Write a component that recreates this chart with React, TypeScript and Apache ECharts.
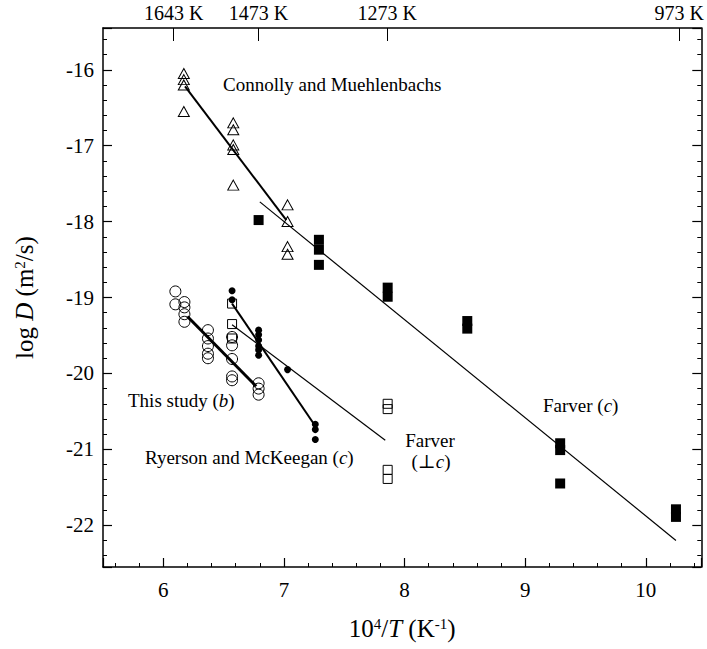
import React, { useEffect, useRef } from "react";
import * as echarts from "echarts";

const SERIF = '"Liberation Serif", "DejaVu Serif", "Times New Roman", serif';
const FS = 19;
const TICK_FS = 21;
const TITLE_FS = 25;

// Top axis temperatures (K)
const topTempsK = [1643, 1473, 1273, 973];

// Connolly and Muehlenbachs (open triangles)
const cmX = [6.17, 6.17, 6.17, 6.17, 6.58, 6.58, 6.58, 6.58, 6.58, 7.03, 7.03, 7.03, 7.03];
const cmY = [-16.05, -16.13, -16.2, -16.55, -16.7, -16.79, -16.99, -17.05, -17.52, -17.78, -18.0, -18.33, -18.43];
const cmFitX = [6.18, 7.02];
const cmFitY = [-16.22, -17.98];

// Farver (c) filled squares
const farverCX = [6.79, 7.29, 7.29, 7.29, 7.86, 7.86, 8.52, 8.52, 9.29, 9.29, 9.29, 10.25, 10.25];
const farverCY = [-17.98, -18.24, -18.37, -18.57, -18.87, -18.99, -19.31, -19.41, -20.92, -21.01, -21.45, -21.79, -21.89];
const farverCFitX = [6.8, 10.25];
const farverCFitY = [-17.74, -22.2];

// This study (b) open circles
const studyX = [6.1, 6.1, 6.175, 6.175, 6.175, 6.175, 6.37, 6.37, 6.37, 6.37, 6.37, 6.57, 6.57, 6.57, 6.57, 6.57, 6.79, 6.79, 6.79];
const studyY = [-18.92, -19.09, -19.06, -19.13, -19.22, -19.32, -19.43, -19.54, -19.64, -19.74, -19.8, -19.52, -19.63, -19.81, -20.04, -20.09, -20.13, -20.2, -20.28];
const studyFitX = [6.2, 6.77];
const studyFitY = [-19.25, -20.17];

// Ryerson and McKeegan (c) filled dots
const rmX = [6.57, 6.57, 6.79, 6.79, 6.79, 6.79, 6.79, 6.79, 7.03, 7.26, 7.26, 7.26];
const rmY = [-18.91, -19.03, -19.43, -19.49, -19.56, -19.64, -19.69, -19.76, -19.95, -20.67, -20.74, -20.87];
const rmFitX = [6.57, 7.25];
const rmFitY = [-19.08, -20.67];

// Farver (perpendicular c) open squares
const farverPX = [6.57, 6.57, 6.57, 7.86, 7.86, 7.86, 7.86];
const farverPY = [-19.08, -19.35, -19.54, -20.4, -20.47, -21.27, -21.39];
const farverPFitX = [6.57, 7.84];
const farverPFitY = [-19.36, -20.88];

const pairs = (xs: number[], ys: number[]) => xs.map((x, i) => [x, ys[i]]);

const INK = "#000";

export default function App() {
  const ref = useRef<HTMLDivElement>(null);
  useEffect(() => {
    if (!ref.current) return;
    const chart = echarts.init(ref.current, undefined, { renderer: "svg" });
    const xMin = 5.5;
    const xMax = 10.46;
    const yMin = -22.55;
    const yMax = -15.45;
    const intOnly = (v: number) => (Math.abs(v - Math.round(v)) < 1e-6 ? String(Math.round(v)) : "");
    const axisLine = { show: true, onZero: false, lineStyle: { color: INK, width: 1.5 } };
    const tickText = { fontFamily: SERIF, fontSize: TICK_FS, color: INK };
    const mkRich = (fs: number) => ({
      i: { fontFamily: SERIF, fontSize: fs, fontStyle: "italic", color: INK },
      sup: { fontFamily: SERIF, fontSize: Math.round(fs * 0.6), color: INK, verticalAlign: "top" },
      n: { fontFamily: SERIF, fontSize: fs, color: INK },
    });
    const rich = mkRich(FS);
    const titleRich = mkRich(TITLE_FS);
    const lineSeries = (xs: number[], ys: number[], w: number) => ({
      type: "line",
      data: pairs(xs, ys),
      showSymbol: false,
      symbol: "none",
      lineStyle: { color: INK, width: w },
      z: 3,
      silent: true,
    });
    const open = { color: "rgba(0,0,0,0)", borderColor: INK, borderWidth: 1, opacity: 1 };
    const filled = { color: INK, opacity: 1 };
    chart.setOption({
      animation: false,
      backgroundColor: "#fff",
      grid: { left: 103, right: 2, top: 28, bottom: 82 },
      xAxis: [
        {
          type: "value",
          position: "bottom",
          min: xMin,
          max: xMax,
          name: "10{sup|4}/{i|T} (K{sup|-1})",
          nameLocation: "middle",
          nameGap: 49,
          nameTextStyle: { fontFamily: SERIF, fontSize: TITLE_FS, color: INK, rich: titleRich },
          axisLine,
          axisTick: { show: true, inside: true, length: 9, lineStyle: { color: INK, width: 1.2 } },
          minorTick: { show: true, splitNumber: 5, length: 4, lineStyle: { color: INK, width: 1 } },
          axisLabel: { ...tickText, margin: 12, formatter: intOnly },
          splitLine: { show: false },
          minorSplitLine: { show: false },
        },
        {
          type: "value",
          position: "top",
          min: xMin,
          max: xMax,
          axisLine,
          axisTick: {
            show: true,
            inside: true,
            length: 13,
            customValues: topTempsK.map((t) => 1e4 / t),
            lineStyle: { color: INK, width: 1 },
          },
          axisLabel: {
            fontFamily: SERIF,
            fontSize: 20,
            color: INK,
            margin: 5,
            customValues: topTempsK.map((t) => 1e4 / t),
            formatter: (v: number) => `${Math.round(1e4 / v)} K`,
          },
          splitLine: { show: false },
        },
      ],
      yAxis: [
        {
          type: "value",
          position: "left",
          min: yMin,
          max: yMax,
          name: "log {i|D} (m{sup|2}/s)",
          nameLocation: "middle",
          nameRotate: 90,
          nameGap: 66,
          nameTextStyle: { fontFamily: SERIF, fontSize: TITLE_FS, color: INK, rich: titleRich },
          axisLine,
          axisTick: { show: true, inside: true, length: 9, lineStyle: { color: INK, width: 1.2 } },
          minorTick: { show: true, splitNumber: 5, length: 4, lineStyle: { color: INK, width: 1 } },
          axisLabel: { ...tickText, margin: 9, formatter: intOnly },
          splitLine: { show: false },
          minorSplitLine: { show: false },
        },
        {
          type: "value",
          position: "right",
          min: yMin,
          max: yMax,
          axisLine,
          axisTick: { show: true, inside: true, length: 9, lineStyle: { color: INK, width: 1.2 } },
          minorTick: { show: true, splitNumber: 5, length: 4, lineStyle: { color: INK, width: 1 } },
          axisLabel: { show: false },
          splitLine: { show: false },
        },
      ],
      series: [
        lineSeries(cmFitX, cmFitY, 2),
        lineSeries(farverCFitX, farverCFitY, 1.2),
        lineSeries(studyFitX, studyFitY, 3),
        lineSeries(rmFitX, rmFitY, 2),
        lineSeries(farverPFitX, farverPFitY, 1.2),
        { type: "scatter", data: pairs(cmX, cmY), symbol: "triangle", symbolSize: [11, 10], itemStyle: open, z: 4 },
        { type: "scatter", data: pairs(farverCX, farverCY), symbol: "rect", symbolSize: 10, itemStyle: filled, z: 4 },
        { type: "scatter", data: pairs(studyX, studyY), symbol: "circle", symbolSize: 11, itemStyle: open, z: 4 },
        { type: "scatter", data: pairs(rmX, rmY), symbol: "circle", symbolSize: 7, itemStyle: filled, z: 5 },
        { type: "scatter", data: pairs(farverPX, farverPY), symbol: "rect", symbolSize: 9, itemStyle: open, z: 4 },
      ],
      graphic: [
        {
          type: "text",
          x: 223,
          y: 84,
          style: { text: "Connolly and Muehlenbachs", fontFamily: SERIF, fontSize: FS, fill: INK, verticalAlign: "middle" },
        },
        {
          type: "text",
          x: 128,
          y: 400,
          style: { text: "This study ({i|b})", fontFamily: SERIF, fontSize: FS, fill: INK, verticalAlign: "middle", rich },
        },
        {
          type: "text",
          x: 145,
          y: 457,
          style: { text: "Ryerson and McKeegan ({i|c})", fontFamily: SERIF, fontSize: FS, fill: INK, verticalAlign: "middle", rich },
        },
        {
          type: "text",
          x: 543,
          y: 405,
          style: { text: "Farver ({i|c})", fontFamily: SERIF, fontSize: FS, fill: INK, verticalAlign: "middle", rich },
        },
        {
          type: "text",
          x: 430,
          y: 440,
          style: { text: "Farver", fontFamily: SERIF, fontSize: FS, fill: INK, align: "center", verticalAlign: "middle" },
        },
        {
          type: "text",
          x: 431,
          y: 461,
          style: { text: "(\u22A5{i|c})", fontFamily: SERIF, fontSize: FS, fill: INK, align: "center", verticalAlign: "middle", rich },
        },
      ],
    });
    return () => chart.dispose();
  }, []);
  return (
    <div
      ref={ref}
      style={{ position: "fixed", left: 0, top: 0, width: 707, height: 649, background: "#fff" }}
    />
  );
}
